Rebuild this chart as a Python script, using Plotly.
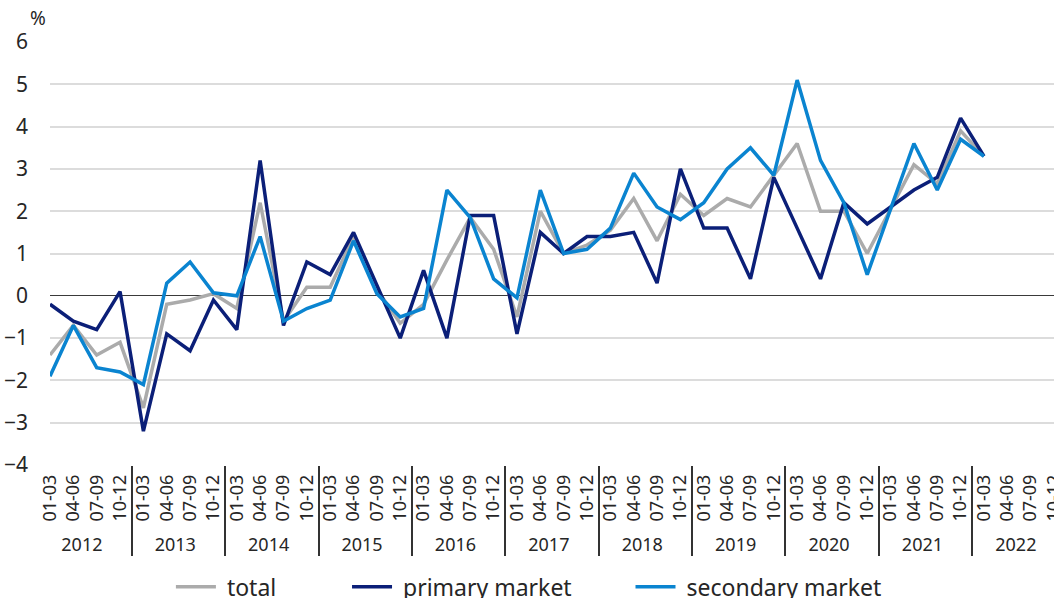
import plotly.graph_objects as go

years = ["2012", "2013", "2014", "2015", "2016", "2017", "2018", "2019", "2020", "2021", "2022"]
quarters = ["01-03", "04-06", "07-09", "10-12"]

total = [-1.4, -0.7, -1.4, -1.1,
         -2.65, -0.2, -0.1, 0.05,
         -0.3, 2.2, -0.6, 0.2,
         0.2, 1.4, 0.15, -0.65,
         -0.2, 0.85, 1.85, 1.1,
         -0.5, 2.0, 1.0, 1.2,
         1.55, 2.3, 1.3, 2.4,
         1.9, 2.3, 2.1, 2.85,
         3.6, 2.0, 2.0, 1.0,
         2.05, 3.1, 2.65, 3.9,
         3.3, None, None, None]

primary = [-0.2, -0.6, -0.8, 0.1,
           -3.2, -0.9, -1.3, -0.1,
           -0.8, 3.2, -0.7, 0.8,
           0.5, 1.5, 0.25, -1.0,
           0.6, -1.0, 1.9, 1.9,
           -0.9, 1.5, 1.0, 1.4,
           1.4, 1.5, 0.3, 3.0,
           1.6, 1.6, 0.4, 2.8,
           1.6, 0.4, 2.2, 1.7,
           2.1, 2.5, 2.8, 4.2,
           3.3, None, None, None]

secondary = [-1.9, -0.7, -1.7, -1.8,
             -2.1, 0.3, 0.8, 0.07,
             0.0, 1.4, -0.6, -0.3,
             -0.1, 1.3, 0.05, -0.5,
             -0.3, 2.5, 1.85, 0.4,
             -0.05, 2.5, 1.0, 1.1,
             1.6, 2.9, 2.1, 1.8,
             2.2, 3.0, 3.5, 2.85,
             5.1, 3.2, 2.2, 0.5,
             2.05, 3.6, 2.5, 3.7,
             3.3, None, None, None]

series_names = ["total", "primary market", "secondary market"]

x_year = [y for y in years for _ in quarters]
x_quarter = [q for _ in years for q in quarters]
x = [x_year, x_quarter]

FONT = "Noto Sans"
TXT = "#262626"
NB = "\u00a0"

fig = go.Figure()
fig.add_trace(go.Scatter(x=x, y=total, mode="lines", name=NB + series_names[0] + NB * 11,
                         line=dict(color="#ababab", width=3.5)))
fig.add_trace(go.Scatter(x=x, y=primary, mode="lines", name=NB + series_names[1] + NB * 9,
                         line=dict(color="#0b1f78", width=3.5)))
fig.add_trace(go.Scatter(x=x, y=secondary, mode="lines", name=NB + series_names[2],
                         line=dict(color="#0a84d0", width=3.5)))

fig.update_layout(
    width=1054, height=598,
    margin=dict(l=50, r=0, t=42, b=133, autoexpand=False),
    paper_bgcolor="white", plot_bgcolor="white",
    font=dict(family=FONT, color=TXT, size=18),
    showlegend=True,
    legend=dict(orientation="h", x=0.477, xanchor="center", y=-0.288, yanchor="middle",
                font=dict(size=23, family=FONT, color=TXT), bgcolor="rgba(0,0,0,0)",
                itemwidth=40, tracegroupgap=0),
    annotations=[dict(text="%", xref="paper", yref="paper", x=-0.022, y=1.0,
                      xanchor="left", yanchor="bottom", yshift=9, showarrow=False,
                      font=dict(size=19, family=FONT, color=TXT))],
)

fig.update_yaxes(range=[-4, 6], dtick=1, tick0=0, showgrid=True, gridcolor="#dcdcdc",
                 gridwidth=1.8, zeroline=True, zerolinecolor="#3a3a3a", zerolinewidth=1.4,
                 showline=False, ticks="", ticklabelstandoff=21,
                 tickfont=dict(size=21, family=FONT, color=TXT), fixedrange=True)
fig.update_xaxes(type="multicategory", tickangle=-90, showgrid=False, showline=False,
                 zeroline=False, ticks="", showdividers=True, dividercolor="#333333",
                 dividerwidth=1.5, ticklabelstandoff=5,
                 tickfont=dict(size=18, family=FONT, color=TXT),
                 fixedrange=True)

fig.write_html("out.html", config={"displayModeBar": False},
               post_script="document.body.style.margin='0px';")
